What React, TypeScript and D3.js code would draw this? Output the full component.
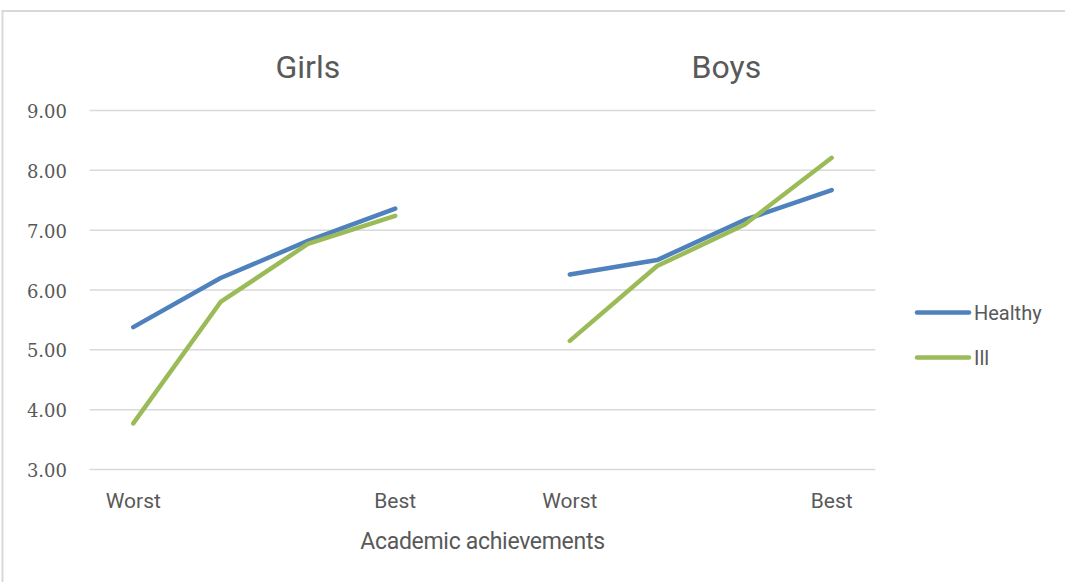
import React, { useRef, useEffect } from 'react';
import * as d3 from 'd3';

// categories along the x axis (blank slot in the middle separates the two groups)
const categories = ['Worst', '', '', 'Best', '', 'Worst', '', '', 'Best'];
const groupTitles = ['Girls', 'Boys'];
const seriesNames = ['Healthy', 'Ill'];

const girlsHealthy = [5.38, 6.2, 6.82, 7.36];
const girlsIll = [3.77, 5.8, 6.77, 7.24];
const boysHealthy = [6.26, 6.5, 7.17, 7.67];
const boysIll = [5.15, 6.4, 7.09, 8.21];

const yTicks = [3, 4, 5, 6, 7, 8, 9];

const colors = ['#4f81bd', '#9bbb59'];

const App = () => {
    const ref = useRef<HTMLDivElement>(null);

    useEffect(() => {
        const root = d3.select(ref.current);
        root.select('svg').remove();

        const width = 1065, height = 582;
        const svg = root.append('svg')
            .attr('width', width)
            .attr('height', height)
            .style('display', 'block');

        svg.append('rect')
            .attr('width', width).attr('height', height)
            .attr('fill', '#fff');

        // chart frame
        svg.append('rect')
            .attr('x', 2.5).attr('y', 11)
            .attr('width', 1200).attr('height', 700)
            .attr('fill', 'none')
            .attr('stroke', '#d9d9d9')
            .attr('stroke-width', 2);

        const idx = categories.map((_, i) => i);
        const x = d3.scalePoint<number>()
            .domain(idx)
            .range([133.3, 831.7]);
        const step = x.step();

        const y = d3.scaleLinear()
            .domain([3, 9])
            .range([469.5, 110.5]);

        const left = x(0)! - step / 2;
        const right = x(idx.length - 1)! + step / 2;

        // gridlines
        svg.append('g')
            .selectAll('line')
            .data(yTicks)
            .enter()
            .append('line')
            .attr('x1', left).attr('x2', right)
            .attr('y1', d => y(d)).attr('y2', d => y(d))
            .attr('stroke', '#d9d9d9')
            .attr('stroke-width', 1.5);

        // y tick labels
        svg.append('g')
            .selectAll('text')
            .data(yTicks)
            .enter()
            .append('text')
            .attr('x', 67)
            .attr('y', d => y(d) + 7.5)
            .attr('text-anchor', 'end')
            .style('font-family', '"DejaVu Serif", serif')
            .style('font-size', '18px')
            .style('fill', '#595959')
            .text(d => d.toFixed(2));

        // x tick labels
        svg.append('g')
            .selectAll('text')
            .data(idx.filter(i => categories[i] !== ''))
            .enter()
            .append('text')
            .attr('x', i => x(i)!)
            .attr('y', 508)
            .attr('text-anchor', 'middle')
            .style('font-family', 'Roboto, sans-serif')
            .style('font-size', '21px')
            .style('fill', '#595959')
            .text(i => categories[i]);

        // axis title sits over the empty middle slot
        svg.append('text')
            .attr('x', x(4)!)
            .attr('y', 549)
            .attr('text-anchor', 'middle')
            .style('font-family', 'Roboto, sans-serif')
            .style('font-size', '23px')
            .style('letter-spacing', '-0.3px')
            .style('fill', '#595959')
            .text('Academic achievements');

        const groups = [
            { title: groupTitles[0], start: 0, tx: x(2)!, healthy: girlsHealthy, ill: girlsIll },
            { title: groupTitles[1], start: 5, tx: x(7)! - 18, healthy: boysHealthy, ill: boysIll },
        ];

        // group titles
        groups.forEach(g => {
            svg.append('text')
                .attr('x', g.tx)
                .attr('y', 78)
                .attr('text-anchor', 'middle')
                .style('font-family', 'Roboto, sans-serif')
                .style('font-size', '32px')
                .style('fill', '#595959')
                .text(g.title);
        });

        const line = d3.line<[number, number]>()
            .x(d => x(d[0])!)
            .y(d => y(d[1]));

        groups.forEach(g => {
            [g.healthy, g.ill].forEach((vals, s) => {
                const pts: [number, number][] = vals.map((v, i) => [g.start + i, v]);
                svg.append('path')
                    .datum(pts)
                    .attr('d', line)
                    .attr('fill', 'none')
                    .attr('stroke', colors[s])
                    .attr('stroke-width', 4.5)
                    .attr('stroke-linejoin', 'round')
                    .attr('stroke-linecap', 'round');
            });
        });

        // legend
        const legend = svg.append('g');
        seriesNames.forEach((name, i) => {
            const ly = 312.5 + i * 45;
            legend.append('line')
                .attr('x1', 917).attr('x2', 969)
                .attr('y1', ly).attr('y2', ly)
                .attr('stroke', colors[i])
                .attr('stroke-width', 4.5)
                .attr('stroke-linecap', 'round');
            legend.append('text')
                .attr('x', 974)
                .attr('y', ly + 7.5)
                .style('font-family', 'Roboto, sans-serif')
                .style('font-size', '20px')
                .style('fill', '#595959')
                .text(name);
        });
    }, []);

    return <div ref={ref} style={{ position: 'fixed', left: 0, top: 0 }} />;
};

export default App;
